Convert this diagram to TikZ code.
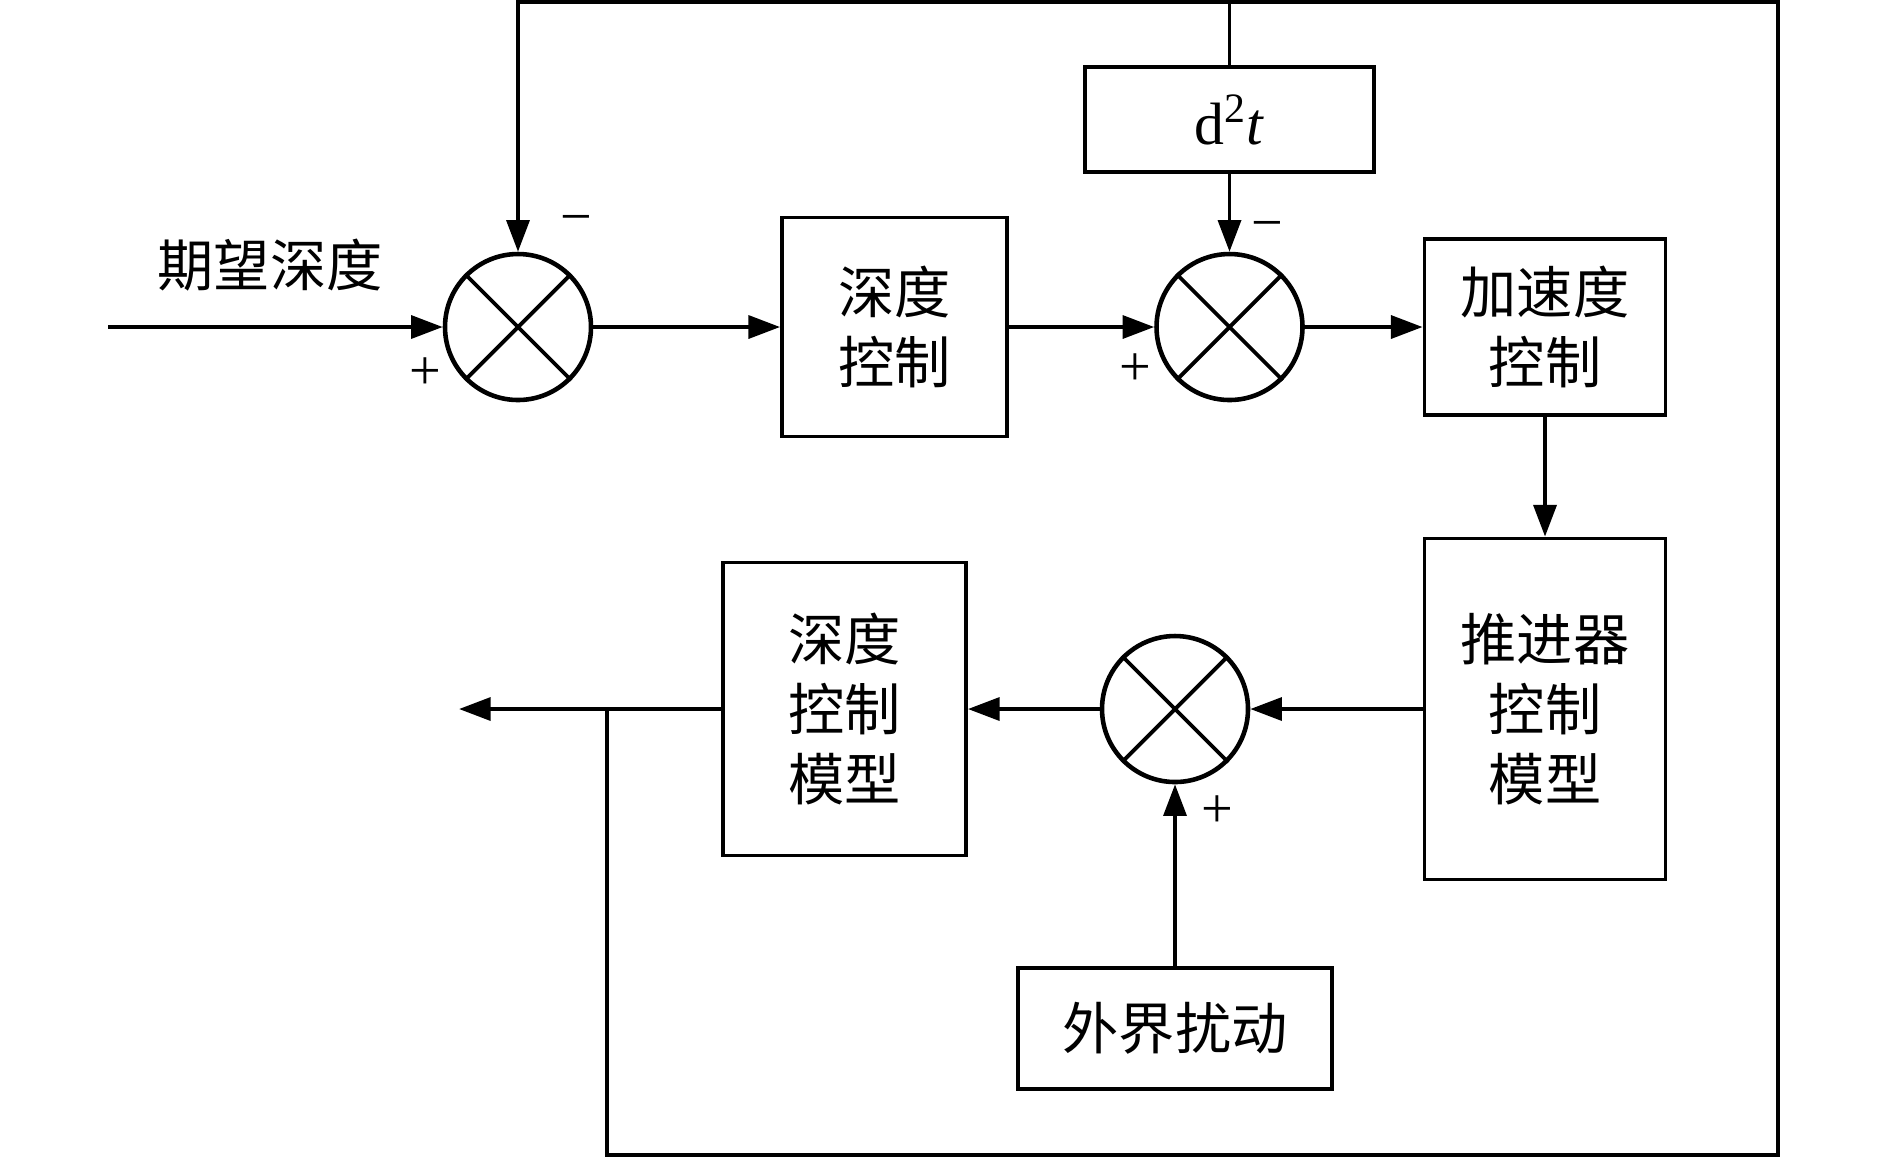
\documentclass[tikz,border=0pt]{standalone}
\usepackage{fontspec}
\setmainfont{Liberation Serif}
\newfontfamily\cjk{Noto Sans CJK SC}
\usetikzlibrary{arrows.meta}
\begin{document}
\begin{tikzpicture}[x=0.1mm,y=-0.1mm,line width=1.1pt,
      >={Triangle[length=9pt,width=6.5pt]},
      blk/.style={draw,inner sep=0pt,align=center,font=\cjk\fontsize{16pt}{20pt}\selectfont},
      sum/.style={draw,circle,minimum size=14.6mm,inner sep=0pt,line width=1.3pt},
      sgn/.style={inner sep=0pt,font=\fontsize{16pt}{18pt}\selectfont}]
      \useasboundingbox (0,0) rectangle (1890,1158);
      \node (ref) at (270,265) [font=\cjk\fontsize{16pt}{20pt}\selectfont] {期望深度};
      \node (s1) at (518,327) [sum] {};
      \node (ctrl) at (894.5,327) [blk,minimum width=22.5mm,minimum height=21.9mm] {深度\\控制};
      \node (s2) at (1229.5,327) [sum] {};
      \node (acc) at (1545,327) [blk,minimum width=24.1mm,minimum height=17.6mm] {加速度\\控制};
      \node (dt) at (1229.5,119.5) [blk,font=\fontsize{17pt}{20pt}\selectfont,minimum width=28.9mm,minimum height=10.5mm] {d\textsuperscript{2}\textit{t}};
      \node (thr) at (1545,709) [blk,minimum width=24.1mm,minimum height=34.1mm] {推进器\\控制\\模型};
      \node (s3) at (1175,709) [sum] {};
      \node (model) at (844.5,709) [blk,minimum width=24.3mm,minimum height=29.3mm] {深度\\控制\\模型};
      \node (dist) at (1175,1028.5) [blk,minimum width=31.4mm,minimum height=12.1mm] {外界扰动};
      \foreach \s in {s1,s2,s3}
         \draw (\s.north west) -- (\s.south east) (\s.north east) -- (\s.south west);
      % signs at the summing points
      \node (m1) at (576,225) [sgn] {−};
      \node (p1) at (425,374) [sgn] {+};
      \node (m2) at (1267,231) [sgn] {−};
      \node (p2) at (1135,370) [sgn] {+};
      \node (p3) at (1217,812) [sgn] {+};
      % free ends and corners
      \coordinate (in) at (108,327);
      \coordinate (out) at (459,709);
      \coordinate (br) at (607,709);
      \coordinate (bl) at (607,1155);
      \coordinate (brr) at (1778,1155);
      \coordinate (tr) at (1778,2);
      \draw [->](in)--(s1);
      \draw [->](s1)--(ctrl);
      \draw [->](ctrl)--(s2);
      \draw [->](s2)--(acc);
      \draw [->](acc)--(thr);
      \draw [->](thr)--(s3);
      \draw [->](s3)--(model);
      \draw [->](model)--(out);
      \draw [->](dist)--(s3);
      \draw [->](dt)--(s2);
      \draw (dt)--(dt |- tr);
      \draw [->](br)--(bl)--(brr)--(tr)-|(s1);
   \end{tikzpicture}
\end{document}
